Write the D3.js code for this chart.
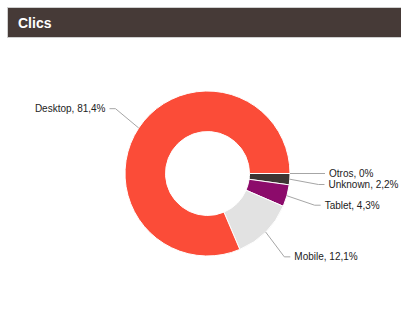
<!DOCTYPE html>
<html>
<head>
<meta charset="utf-8">
<script src="https://cdn.jsdelivr.net/npm/d3@7"></script>
<style>
  html, body { margin: 0; padding: 0; background: #fff; }
  svg { display: block; font-family: "Liberation Sans", Arial, sans-serif; }
</style>
</head>
<body>
<svg id="chart" width="401" height="311"></svg>
<script>
// ---- data ----
const title = "Clics";
const categories = ["Otros", "Unknown", "Tablet", "Mobile", "Desktop"];
const values = [0, 2.2, 4.3, 12.1, 81.4];
const colors = ["#3b3331", "#3d3533", "#8c0b6b", "#e2e2e2", "#fb4c38"];

// ---- layout ----
const W = 401, H = 311;
const cx = 207.5, cy = 173.5;
const outerR = 82.5, innerR = 42;
const labelR = outerR + 35;
const svg = d3.select("#chart");

// header bar
svg.append("rect")
  .attr("x", 7.5).attr("y", 7.5).attr("width", W).attr("height", 30)
  .attr("fill", "#463a37").attr("stroke", "#cfcfcf").attr("stroke-width", 1);
svg.append("text")
  .attr("x", 18).attr("y", 28)
  .attr("fill", "#fff").attr("font-weight", "bold").attr("font-size", 14)
  .text(title);

const data = categories.map((c, i) => ({ name: c, value: values[i], color: colors[i] }));

const pie = d3.pie().sort(null).value(d => d.value)
  .startAngle(Math.PI / 2).endAngle(Math.PI / 2 + 2 * Math.PI);
const arcs = pie(data);
const arc = d3.arc().innerRadius(innerR).outerRadius(outerR);

const g = svg.append("g").attr("transform", `translate(${cx},${cy})`);
g.selectAll("path.slice").data(arcs).join("path")
  .attr("class", "slice")
  .attr("d", arc)
  .attr("fill", d => d.data.color)
  .attr("stroke", "#fff").attr("stroke-width", 1).attr("stroke-linejoin", "round");

// ---- labels ----
const locale = d3.formatLocale({ decimal: ",", thousands: ".", grouping: [3], currency: ["", "€"] });
const fmt = locale.format(".1~f");

const labels = arcs.map(a => {
  const mid = (a.startAngle + a.endAngle) / 2;
  const sx = Math.sin(mid), cyy = -Math.cos(mid);
  return {
    a, mid,
    right: sx >= -1e-9,
    land: [outerR * sx, outerR * cyy],
    y: labelR * cyy,
    text: `${a.data.name}, ${fmt(a.data.value)}%`
  };
});

// simple collision resolution per side
const gap = 11;
[true, false].forEach(side => {
  const grp = labels.filter(l => l.right === side).sort((p, q) => p.y - q.y);
  for (let i = 1; i < grp.length; i++) {
    if (grp[i].y < grp[i - 1].y + gap) grp[i].y = grp[i - 1].y + gap;
  }
});

labels.forEach(l => {
  const dy = Math.max(-labelR, Math.min(labelR, l.y));
  const ex = Math.sqrt(labelR * labelR - dy * dy) * (l.right ? 1 : -1);
  l.end = [ex, l.y];
  l.brk = [ex + (l.right ? -6 : 6), l.y];
  l.tx = ex + (l.right ? 4 : -4);
});

g.selectAll("path.conn").data(labels).join("path")
  .attr("class", "conn")
  .attr("d", l => d3.line()([l.land, l.brk, l.end]))
  .attr("fill", "none").attr("stroke", "#a6a6a6").attr("stroke-width", 1);

g.selectAll("text.lbl").data(labels).join("text")
  .attr("class", "lbl")
  .attr("x", l => l.tx).attr("y", l => l.y)
  .attr("dy", "0.35em")
  .attr("text-anchor", l => l.right ? "start" : "end")
  .attr("font-size", 10).attr("fill", "#222")
  .text(l => l.text);
</script>
</body>
</html>
